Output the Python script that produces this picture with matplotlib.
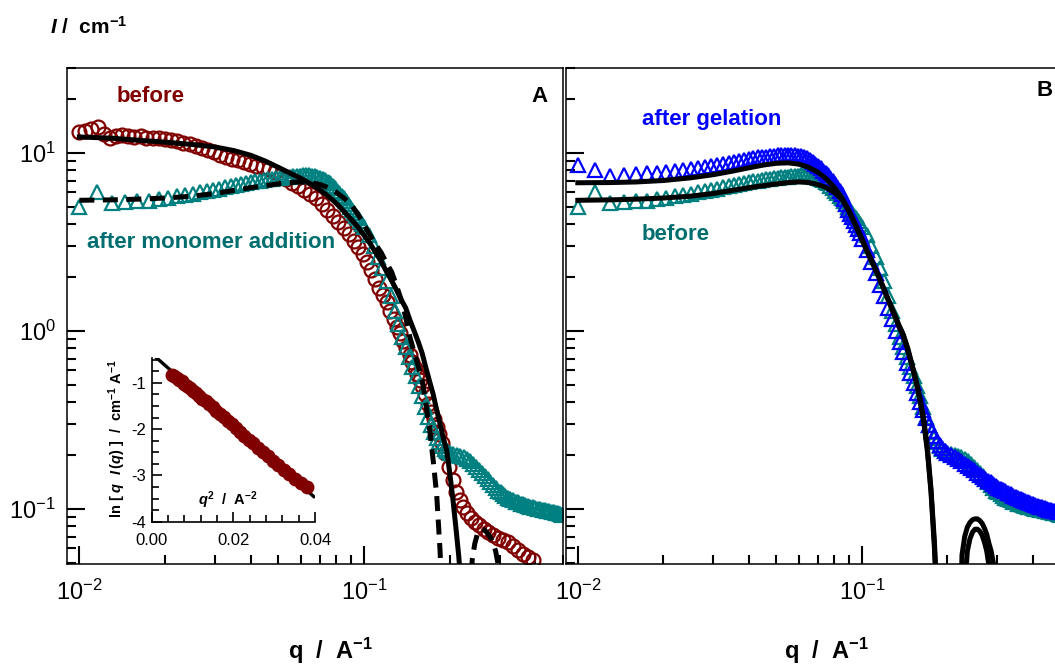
import matplotlib
matplotlib.use('Agg')
import matplotlib.pyplot as plt
from matplotlib.ticker import LogLocator, NullFormatter, MultipleLocator, FormatStrFormatter

# ---- panel A, "before": open circles
q_red = [0.0100, 0.0105, 0.0110, 0.0116, 0.0122, 0.0128, 0.0134, 0.0141, 0.0148, 0.0156,
         0.0164, 0.0172, 0.0181, 0.0190, 0.0200, 0.0210, 0.0221, 0.0232, 0.0244, 0.0256,
         0.0269, 0.0283, 0.0297, 0.0312, 0.0328, 0.0345, 0.0362, 0.0380, 0.0399, 0.0419,
         0.0440, 0.0462, 0.0485, 0.0509, 0.0534, 0.0560, 0.0588, 0.0617, 0.0647, 0.0678,
         0.0710, 0.0743, 0.0777, 0.0812, 0.0848, 0.0885, 0.0920, 0.0955, 0.0990, 0.1025,
         0.1060, 0.1095, 0.1130, 0.1165, 0.1200, 0.1235, 0.1270, 0.1305, 0.1340, 0.1375,
         0.1410, 0.1445, 0.1480, 0.1510, 0.1540, 0.1570, 0.1600, 0.1640, 0.1680, 0.1720,
         0.1760, 0.1800, 0.1840, 0.1880, 0.1930, 0.1990, 0.2050, 0.2110, 0.2170, 0.2230,
         0.2300, 0.2370, 0.2450, 0.2540, 0.2630, 0.2730, 0.2840, 0.2950, 0.3070, 0.3200,
         0.3330, 0.3470, 0.3620, 0.3780, 0.3930]
I_red = [13.1, 13.3, 13.6, 14.0, 12.8, 12.2, 12.5, 12.6, 12.4, 12.3,
         12.4, 12.2, 12.1, 12.1, 11.9, 11.8, 11.6, 11.4, 11.2, 10.9,
         10.7, 10.4, 10.1, 9.8, 9.5, 9.3, 9.1, 8.9, 8.7, 8.5,
         8.3, 8.1, 7.8, 7.5, 7.1, 6.8, 6.5, 6.2, 5.9, 5.6,
         5.2, 4.8, 4.45, 4.1, 3.8, 3.5, 3.2, 2.95, 2.7, 2.45,
         2.2, 1.95, 1.75, 1.6, 1.45, 1.3, 1.17, 1.05, 0.97, 0.88,
         0.80, 0.73, 0.67, 0.62, 0.57, 0.53, 0.49, 0.44, 0.39, 0.35,
         0.32, 0.29, 0.265, 0.235, 0.205, 0.172, 0.145, 0.125, 0.112, 0.102,
         0.095, 0.089, 0.085, 0.081, 0.077, 0.074, 0.071, 0.069, 0.067, 0.065,
         0.062, 0.059, 0.056, 0.0535, 0.052]

# ---- teal (after monomer addition = "before" in B) and blue (after gelation)
q_grid = [0.0100, 0.0115, 0.0130, 0.0145, 0.0160, 0.0175, 0.0190, 0.0205, 0.0220, 0.0235,
          0.0250, 0.0265, 0.0280, 0.0295, 0.0310, 0.0325, 0.0340, 0.0355, 0.0370, 0.0385,
          0.0400, 0.0415, 0.0430, 0.0445, 0.0460, 0.0475, 0.0490, 0.0505, 0.0520, 0.0535,
          0.0550, 0.0565, 0.0580, 0.0595, 0.0610, 0.0625, 0.0640, 0.0655, 0.0670, 0.0685,
          0.0700, 0.0715, 0.0730, 0.0745, 0.0760, 0.0775, 0.0790, 0.0805, 0.0820, 0.0835,
          0.0850, 0.0865, 0.0880, 0.0895, 0.0910, 0.0925, 0.0940, 0.0955, 0.0970, 0.0985,
          0.1000,
          0.104, 0.108, 0.112, 0.116, 0.120, 0.124, 0.128, 0.132, 0.136, 0.140,
          0.144, 0.148, 0.152, 0.156, 0.160, 0.164, 0.168, 0.172, 0.176, 0.180,
          0.184, 0.188, 0.192, 0.196, 0.200,
          0.206, 0.212, 0.218, 0.224, 0.230, 0.236, 0.242, 0.248, 0.254, 0.260,
          0.266, 0.272, 0.278, 0.284, 0.290, 0.296, 0.302, 0.308, 0.314, 0.320,
          0.327, 0.334, 0.341, 0.348, 0.355, 0.362, 0.369, 0.376, 0.384, 0.392,
          0.400, 0.408, 0.416, 0.424, 0.432, 0.440, 0.448, 0.456, 0.464, 0.472,
          0.480, 0.488, 0.496]
I_teal = [5.0, 6.0, 5.25, 5.3, 5.35, 5.4, 5.5, 5.6, 5.7, 5.8,
          5.9, 6.0, 6.1, 6.2, 6.3, 6.4, 6.5, 6.6, 6.7, 6.8,
          6.9, 6.95, 7.0, 7.05, 7.1, 7.15, 7.2, 7.25, 7.3, 7.3,
          7.35, 7.4, 7.45, 7.45, 7.5, 7.5, 7.5, 7.45, 7.4, 7.35,
          7.25, 7.15, 7.05, 6.9, 6.75, 6.55, 6.35, 6.15, 5.95, 5.75,
          5.55, 5.35, 5.15, 4.95, 4.8, 4.6, 4.45, 4.3, 4.15, 4.0,
          3.85,
          3.45, 3.0, 2.6, 2.25, 1.92, 1.58, 1.3, 1.1, 0.93, 0.81,
          0.71, 0.63, 0.56, 0.49, 0.43, 0.375, 0.33, 0.295, 0.27, 0.25,
          0.237, 0.226, 0.218, 0.212, 0.207,
          0.203, 0.2, 0.198, 0.195, 0.19, 0.185, 0.178, 0.172, 0.166, 0.16,
          0.154, 0.148, 0.142, 0.137, 0.132, 0.127, 0.124, 0.121, 0.118, 0.116,
          0.114, 0.112, 0.11, 0.109, 0.107, 0.106, 0.105, 0.104, 0.103, 0.102,
          0.101, 0.1, 0.0995, 0.099, 0.0985, 0.098, 0.097, 0.0965, 0.096, 0.095,
          0.0945, 0.094, 0.093]
I_blue = [8.6, 8.0, 7.4, 7.5, 7.6, 7.7, 7.75, 7.8, 7.9, 8.0,
          8.15, 8.25, 8.35, 8.45, 8.55, 8.7, 8.8, 8.9, 9.05, 9.15,
          9.3, 9.35, 9.45, 9.5, 9.55, 9.6, 9.65, 9.7, 9.75, 9.75,
          9.75, 9.7, 9.7, 9.65, 9.6, 9.5, 9.35, 9.15, 8.9, 8.65,
          8.4, 8.2, 7.95, 7.75, 7.5, 7.2, 6.95, 6.7, 6.45, 6.15,
          5.85, 5.5, 5.15, 4.8, 4.55, 4.35, 4.15, 3.95, 3.75, 3.55,
          3.3,
          2.85, 2.45, 2.12, 1.82, 1.57, 1.35, 1.16, 1.0, 0.87, 0.76,
          0.66, 0.58, 0.51, 0.45, 0.40, 0.36, 0.325, 0.297, 0.274, 0.256,
          0.241, 0.23, 0.221, 0.213, 0.207,
          0.2, 0.195, 0.19, 0.185, 0.18, 0.175, 0.17, 0.165, 0.16, 0.156,
          0.152, 0.148, 0.144, 0.141, 0.138, 0.135, 0.132, 0.13, 0.128, 0.126,
          0.123, 0.121, 0.119, 0.117, 0.115, 0.114, 0.112, 0.111, 0.109, 0.108,
          0.107, 0.105, 0.104, 0.103, 0.102, 0.101, 0.1, 0.099, 0.0985, 0.098,
          0.097, 0.0965, 0.096]

# ---- model curves
q_fit = [0.010, 0.013, 0.016, 0.020, 0.025, 0.030, 0.035, 0.040, 0.045, 0.050,
         0.055, 0.060, 0.065, 0.070, 0.075, 0.080, 0.085, 0.090, 0.095, 0.100,
         0.105, 0.110, 0.115, 0.120, 0.125, 0.130, 0.135, 0.140, 0.145, 0.150,
         0.155, 0.160, 0.165, 0.170, 0.175, 0.180, 0.185, 0.190, 0.195, 0.200,
         0.205, 0.210, 0.215, 0.220, 0.225, 0.230, 0.235, 0.240, 0.245, 0.250,
         0.255, 0.260, 0.265, 0.270, 0.275, 0.280, 0.285, 0.290, 0.295, 0.300,
         0.305, 0.310]
fit_before = [12.3, 12.1, 11.8, 11.5, 11.15, 10.8, 10.3, 9.7, 9.0, 8.3,
              7.7, 7.2, 6.7, 6.2, 5.7, 5.2, 4.7, 4.25, 3.85, 3.45,
              3.1, 2.75, 2.45, 2.15, 1.92, 1.7, 1.5, 1.35, 1.15, 1.0,
              0.87, 0.75, 0.62, 0.52, 0.44, 0.36, 0.30, 0.25, 0.215, 0.16,
              0.115, 0.08, 0.055, 0.035, 0.015, 0.003, 0.001, 0.001, 0.001, 0.001,
              0.001, 0.001, 0.001, 0.001, 0.001, 0.001, 0.001, 0.001, 0.001, 0.001,
              0.001, 0.001]
fit_monomer = [5.42, 5.45, 5.5, 5.58, 5.72, 5.92, 6.17, 6.38, 6.55, 6.7,
               6.82, 6.88, 6.82, 6.65, 6.38, 6.0, 5.58, 5.15, 4.55, 3.95,
               3.45, 3.05, 2.75, 2.4, 2.15, 1.8, 1.5, 1.2, 0.92, 0.76,
               0.635, 0.53, 0.39, 0.28, 0.187, 0.12, 0.058, 0.02, 0.003, 0.001,
               0.001, 0.001, 0.001, 0.001, 0.001, 0.002, 0.03, 0.052, 0.064, 0.072,
               0.076, 0.077, 0.076, 0.074, 0.071, 0.068, 0.063, 0.058, 0.05, 0.035,
               0.015, 0.002]
fit_before_B = [5.42, 5.45, 5.5, 5.58, 5.72, 5.92, 6.17, 6.38, 6.55, 6.7,
                6.82, 6.88, 6.82, 6.65, 6.38, 6.0, 5.5, 4.7, 3.9, 3.25,
                2.72, 2.32, 1.98, 1.68, 1.43, 1.23, 1.06, 0.93, 0.78, 0.64,
                0.52, 0.41, 0.31, 0.21, 0.125, 0.06, 0.022, 0.004, 0.001, 0.001,
                0.001, 0.001, 0.001, 0.001, 0.005, 0.035, 0.058, 0.068, 0.074, 0.077,
                0.077, 0.075, 0.071, 0.065, 0.058, 0.048, 0.03, 0.008, 0.001, 0.001,
                0.001, 0.001]
fit_gel = [6.8, 6.82, 6.87, 7.0, 7.25, 7.55, 7.9, 8.25, 8.55, 8.75,
           8.8, 8.65, 8.3, 7.8, 7.15, 6.4, 5.6, 4.75, 3.95, 3.3,
           2.75, 2.35, 2.0, 1.7, 1.45, 1.25, 1.08, 0.95, 0.8, 0.65,
           0.53, 0.42, 0.32, 0.22, 0.13, 0.065, 0.025, 0.005, 0.001, 0.001,
           0.001, 0.001, 0.001, 0.01, 0.055, 0.07, 0.079, 0.084, 0.087, 0.088,
           0.088, 0.086, 0.083, 0.078, 0.072, 0.064, 0.058, 0.05, 0.03, 0.005,
           0.001, 0.001]

# ---- inset: Guinier plot
q2_inset = [0.0049, 0.0055, 0.0061, 0.0067, 0.0073, 0.0080, 0.0087, 0.0094, 0.0101, 0.0108,
            0.0116, 0.0124, 0.0132, 0.0140, 0.0149, 0.0158, 0.0167, 0.0176, 0.0186, 0.0196,
            0.0206, 0.0216, 0.0227, 0.0238, 0.0249, 0.0261, 0.0273, 0.0285, 0.0297, 0.0310,
            0.0323, 0.0336, 0.0350, 0.0365, 0.0380]
ln_inset = [-0.83, -0.86, -0.89, -0.93, -0.97, -1.02, -1.07, -1.12, -1.17, -1.22,
            -1.28, -1.34, -1.40, -1.46, -1.53, -1.60, -1.67, -1.74, -1.82, -1.90,
            -1.98, -2.06, -2.14, -2.23, -2.31, -2.41, -2.50, -2.59, -2.68, -2.78,
            -2.88, -2.98, -3.08, -3.17, -3.25]
q2_line = [0.0008, 0.0400]
ln_line = [-0.43, -3.48]

RED = '#800000'
TEAL = '#008080'
TEAL_TXT = '#006e6e'
BLUE = '#0000ff'

assert len(q_red) == len(I_red)
assert len(q_grid) == len(I_teal) == len(I_blue)
assert len(q_fit) == len(fit_before) == len(fit_monomer) == len(fit_gel) == len(fit_before_B)

plt.rcParams['font.family'] = ['Liberation Sans', 'DejaVu Sans']
plt.rcParams['mathtext.fontset'] = 'custom'
plt.rcParams['mathtext.rm'] = 'Liberation Sans:bold'
plt.rcParams['mathtext.it'] = 'Liberation Sans:italic:bold'
plt.rcParams['mathtext.bf'] = 'Liberation Sans:bold'
plt.rcParams['axes.unicode_minus'] = False

W, H = 1055, 666
fig = plt.figure(figsize=(W / 100, H / 100), dpi=100)


def fpos(x, y):
    return x / W, 1 - y / H


def style_log(ax, labels=True):
    ax.set_xscale('log')
    ax.set_yscale('log')
    ax.set_xlim(0.00905, 0.5)
    ax.set_ylim(0.0494, 30.2)
    for a in (ax.xaxis, ax.yaxis):
        a.set_major_locator(LogLocator(base=10))
        a.set_minor_locator(LogLocator(base=10, subs=range(2, 10)))
        a.set_minor_formatter(NullFormatter())
    ax.tick_params(which='both', direction='in', top=False, right=False, width=1.5)
    ax.tick_params(which='major', length=13)
    ax.tick_params(which='minor', length=6.5)
    ax.tick_params(axis='y', pad=8, labelsize=17)
    ax.tick_params(axis='x', pad=12, labelsize=17)
    if not labels:
        ax.tick_params(axis='y', labelleft=False)
    for s in ax.spines.values():
        s.set_linewidth(1.1)


bottom = (H - 563.5) / H
height = 496 / H
axA = fig.add_axes([67 / W, bottom, 496 / W, height])
axB = fig.add_axes([565.5 / W, bottom, 495 / W, height])
style_log(axA)
style_log(axB, labels=False)

mk = dict(ls='none', mfc='none', mew=1.6, ms=10)

# panel A
axA.plot(q_red, I_red, marker='o', mec=RED, **mk)
axA.plot(q_grid, I_teal, marker='^', mec=TEAL, **mk)
axA.plot(q_fit, fit_before, color='black', lw=3.6)
axA.plot(q_fit, fit_monomer, color='black', lw=3.6, ls=(0, (3, 1.7)))

# panel B
axB.plot(q_grid, I_teal, marker='^', mec=TEAL, **mk)
axB.plot(q_grid, I_blue, marker='^', mec=BLUE, **mk)
axB.plot(q_fit, fit_before_B, color='black', lw=3.6)
axB.plot(q_fit, fit_gel, color='black', lw=3.6)

# inset
axI = fig.add_axes([151.7 / W, (H - 521.7) / H, 163.3 / W, 163.4 / H])
axI.patch.set_alpha(0)
axI.spines['top'].set_visible(False)
axI.spines['right'].set_visible(False)
axI.set_xlim(0, 0.04)
axI.set_ylim(-4, -0.47)
axI.xaxis.set_major_locator(MultipleLocator(0.02))
axI.xaxis.set_minor_locator(MultipleLocator(0.004))
axI.yaxis.set_major_locator(MultipleLocator(1))
axI.yaxis.set_minor_locator(MultipleLocator(0.25))
axI.xaxis.set_major_formatter(FormatStrFormatter('%.2f'))
axI.yaxis.set_major_formatter(FormatStrFormatter('%d'))
axI.tick_params(which='both', direction='in', width=1.2, labelsize=12)
axI.tick_params(which='major', length=7)
axI.tick_params(which='minor', length=5)
axI.tick_params(axis='y', pad=4)
axI.tick_params(axis='x', pad=8)
for s in axI.spines.values():
    s.set_linewidth(1.2)
axI.plot(q2_line, ln_line, color='black', lw=2.4, solid_capstyle='butt')
axI.plot(q2_inset, ln_inset, 'o', color=RED, ms=9, clip_on=False)

# text labels
bold = dict(fontweight='bold', ha='left', va='baseline', fontsize=16)
fig.text(*fpos(116.7, 101.7), 'before', color=RED, **bold)
fig.text(*fpos(86.7, 248.3), 'after monomer addition', color=TEAL_TXT, **bold)
fig.text(*fpos(531.7, 101.7), 'A', color='black', **bold)
fig.text(*fpos(1036.7, 96), 'B', color='black', **bold)
fig.text(*fpos(641.7, 125.5), 'after gelation', color=BLUE, **bold)
fig.text(*fpos(641.7, 240), 'before', color=TEAL_TXT, **bold)

fig.text(*fpos(50, 34.3), r'$\mathit{I}$ /  cm$^{-1}$', fontsize=15,
         fontweight='bold', ha='left', va='baseline')
for xc in (330, 826):
    fig.text(*fpos(xc, 659), r'q  /  A$^{-1}$', fontsize=17, fontweight='bold',
             ha='center', va='baseline')

fig.text(*fpos(117, 439), r'ln [ $\mathit{q}$  $\mathit{I\,(q)}$ ]  /  cm$^{-1}$ A$^{-1}$',
         fontsize=10.5, fontweight='bold', rotation=90, ha='center', va='center')
fig.text(*fpos(227.5, 505), r'$\mathit{q}^{2}$  /  A$^{-2}$', fontsize=10.5,
         fontweight='bold', ha='center', va='baseline')

fig.savefig('out.png', dpi=100)
